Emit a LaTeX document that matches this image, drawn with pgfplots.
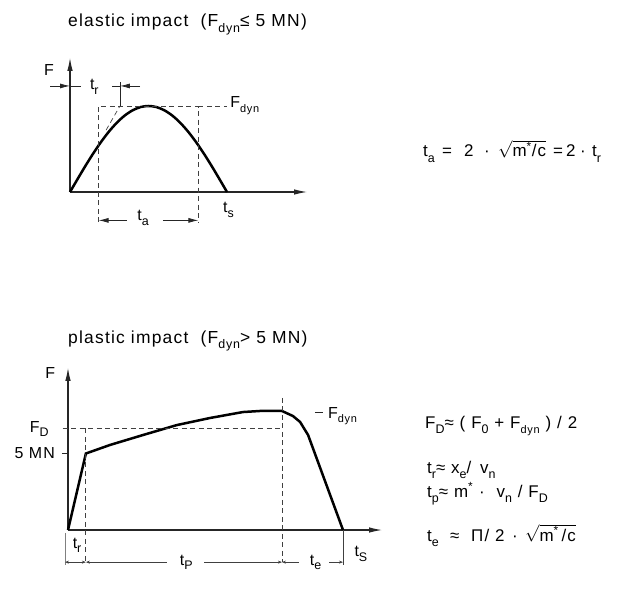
\documentclass[border=0pt]{standalone}
\usepackage{fontspec}
\setmainfont{Liberation Sans}[LetterSpace=7]
\usepackage{pgfplots}
\pgfplotsset{compat=1.18}
\usetikzlibrary{arrows.meta}

\newcommand\sub[1]{\raisebox{-0.3em}{\fontsize{12.5}{12.5}\selectfont #1}}
\newcommand\ssub[1]{\raisebox{-0.3em}{\fontsize{11}{11}\selectfont #1}}
\newcommand\lbl{\fontsize{16}{16}\selectfont}
\newcommand\frm{\fontsize{17}{17}\selectfont}

\pgfplotsset{
  sketch/.style={
    axis lines=middle, ticks=none, clip=false,
    axis line style={line width=1.1bp, black!85, -{Latex[length=13bp,width=5.5bp]}},
  },
  curve/.style={line width=2.5bp, black},
  dash/.style={line width=0.9bp, black!75, dash pattern=on 5bp off 3.5bp},
  thinl/.style={line width=0.8bp, black!85},
  dim/.style={line width=0.8bp, black!75},
}

\begin{document}
\begin{tikzpicture}
\begin{scope}[x=1bp,y=1bp,every node/.style={inner sep=0pt,text=black}]
\path (0,0) rectangle (618,-608);
\node[anchor=base west,font=\fontsize{17.5}{17.5}\selectfont] at (68,-27) {elastic impact \ (F\sub{dyn}≤ 5 MN)};
\node[anchor=base west,font=\fontsize{17.5}{17.5}\selectfont] at (68,-343) {plastic impact \ (F\sub{dyn}> 5 MN)};
% t_a = 2 . sqrt(m*/c) = 2 . t_r
\node[anchor=base west,font=\frm] at (423,-157) {t\sub{a}};
\node[anchor=base west,font=\frm] at (442,-157) {=};
\node[anchor=base west,font=\frm] at (464,-157) {2};
\node[anchor=base west,font=\frm] at (484,-157) {·};
\node[anchor=base west,font=\frm] at (498,-157) {$\sqrt{\mbox{m\textsuperscript{*}/c}}$};
\node[anchor=base west,font=\frm] at (553,-157) {=};
\node[anchor=base west,font=\frm] at (566,-157) {2};
\node[anchor=base west,font=\frm] at (580,-157) {·};
\node[anchor=base west,font=\frm] at (592,-157) {t\sub{r}};
% plastic impact relations
\node[anchor=base west,font=\frm] at (425,-428) {F\sub{D}≈ ( F\sub{0} + F\ssub{dyn} ) / 2};
\node[anchor=base west,font=\frm] at (427,-473) {t\sub{r}≈ x\sub{e}/ \,v\sub{n}};
\node[anchor=base west,font=\frm] at (427,-497) {t\sub{p}≈ m\textsuperscript{*} · \ v\sub{n} / F\sub{D}};
\node[anchor=base west,font=\frm] at (427,-541) {t\sub{e}};
\node[anchor=base west,font=\frm] at (450,-541) {≈};
\node[anchor=base west,font=\frm] at (471,-541) {Π/ 2};
\node[anchor=base west,font=\frm] at (512,-541) {·};
\node[anchor=base west,font=\frm] at (525,-541) {$\sqrt{\mbox{m\textsuperscript{*}\,/c}}$};
\end{scope}

% elastic impact: time in t_s, force in F_dyn
\begin{axis}[sketch,
  at={(70bp,-192bp)}, anchor=south west,
  x=157bp, y=86bp, xmin=0, xmax=1.51, ymin=0, ymax=1.56]
\addplot[curve, smooth] coordinates {
  (0,0) (0.05,0.156) (0.1,0.309) (0.15,0.454) (0.2,0.588) (0.25,0.707)
  (0.3,0.809) (0.35,0.891) (0.4,0.951) (0.45,0.988) (0.5,1)
  (0.55,0.988) (0.6,0.951) (0.65,0.891) (0.7,0.809) (0.75,0.707)
  (0.8,0.588) (0.85,0.454) (0.9,0.309) (0.95,0.156) (1,0)};
\addplot[dash] coordinates {(0.182,-0.35) (0.182,1) (0.818,1) (0.818,-0.35)};
\addplot[dash] coordinates {(0.818,1) (1.0,1)};
\addplot[dash, line width=0.7bp] coordinates {(0.23,0.72) (0.318,1)};
\addplot[thinl] coordinates {(0.318,1) (0.318,1.28)};
\addplot[thinl, -{Latex[length=10bp,width=5bp]}] coordinates {(-0.127,1.233) (0,1.233)};
\addplot[thinl] coordinates {(0,1.233) (0.07,1.233)};
\addplot[thinl, -{Latex[length=10bp,width=5bp]}] coordinates {(0.446,1.233) (0.318,1.233)};
\addplot[thinl] coordinates {(0.318,1.233) (0.268,1.233)};
\addplot[thinl, -{Latex[length=10bp,width=5bp]}] coordinates {(0.363,-0.33) (0.182,-0.33)};
\addplot[thinl, -{Latex[length=10bp,width=5bp]}] coordinates {(0.592,-0.33) (0.818,-0.33)};
\node[font=\lbl, inner sep=0pt] at (axis cs:-0.134,1.42) {F};
\node[font=\lbl, inner sep=0pt] at (axis cs:0.155,1.22) {t\sub{r}};
\node[font=\lbl, inner sep=0pt, anchor=west] at (axis cs:1.02,1.0) {F\ssub{dyn}};
\node[font=\lbl, inner sep=0pt] at (axis cs:1.01,-0.21) {t\sub{s}};
\node[font=\lbl, inner sep=0pt] at (axis cs:0.465,-0.3) {t\sub{a}};
\end{axis}

% plastic impact: time in units (t_s = 10), force in MN
\begin{axis}[sketch,
  at={(68bp,-530bp)}, anchor=south west,
  x=27.5bp, y=15.3bp, xmin=0, xmax=11.42, ymin=0, ymax=10.6]
\addplot[curve] coordinates {
  (0,0) (0.65,5.0) (1.53,5.56) (2.73,6.21) (3.96,6.86) (5.16,7.32)
  (6.36,7.71) (6.98,7.78) (7.78,7.78) (8.18,7.45) (8.44,7.06) (8.73,6.21) (10,0)};
\addplot[thinl] coordinates {(-0.22,5) (0,5)};
\addplot[dash] coordinates {(-0.2,6.65) (7.78,6.65)};
\addplot[dash] coordinates {(0.65,6.65) (0.65,-2.1)};
\addplot[dash] coordinates {(7.78,8.63) (7.78,-2.1)};
\addplot[dim, black!50] coordinates {(-0.11,-0.2) (-0.11,-2.3)};
\addplot[dim] coordinates {(10,0) (10,-2.3)};
\addplot[dim, {Stealth[length=4bp,width=3bp]}-{Stealth[length=4bp,width=3bp]}] coordinates {(-0.11,-2.1) (0.65,-2.1)};
\addplot[dim, {Stealth[length=4bp,width=3bp]}-] coordinates {(0.65,-2.1) (3.6,-2.1)};
\addplot[dim, -{Stealth[length=4bp,width=3bp]}] coordinates {(4.95,-2.1) (7.78,-2.1)};
\addplot[dim, {Stealth[length=4bp,width=3bp]}-] coordinates {(7.78,-2.1) (8.4,-2.1)};
\addplot[dim, -{Stealth[length=4bp,width=3bp]}] coordinates {(9.5,-2.1) (10,-2.1)};
\node[font=\lbl, inner sep=0pt] at (axis cs:-0.65,10.26) {F};
\node[font=\lbl, inner sep=0pt, anchor=base east] at (axis cs:-0.7,6.4) {F\sub{D}};
\node[font=\lbl, inner sep=0pt, anchor=east] at (axis cs:-0.47,5.0) {5 MN};
\node[font=\lbl, inner sep=0pt] at (axis cs:0.33,-1.0) {t\sub{r}};
\node[font=\lbl, inner sep=0pt, anchor=base] at (axis cs:4.3,-2.29) {t\sub{P}};
\node[font=\lbl, inner sep=0pt, anchor=base] at (axis cs:9.0,-2.29) {t\sub{e}};
\node[font=\lbl, inner sep=0pt, anchor=base] at (axis cs:10.65,-1.76) {t\sub{S}};
\addplot[thinl] coordinates {(8.98,7.71) (9.27,7.71)};
\node[font=\lbl, inner sep=0pt, anchor=base west] at (axis cs:9.45,7.32) {F\ssub{dyn}};
\end{axis}
\end{tikzpicture}
\end{document}
